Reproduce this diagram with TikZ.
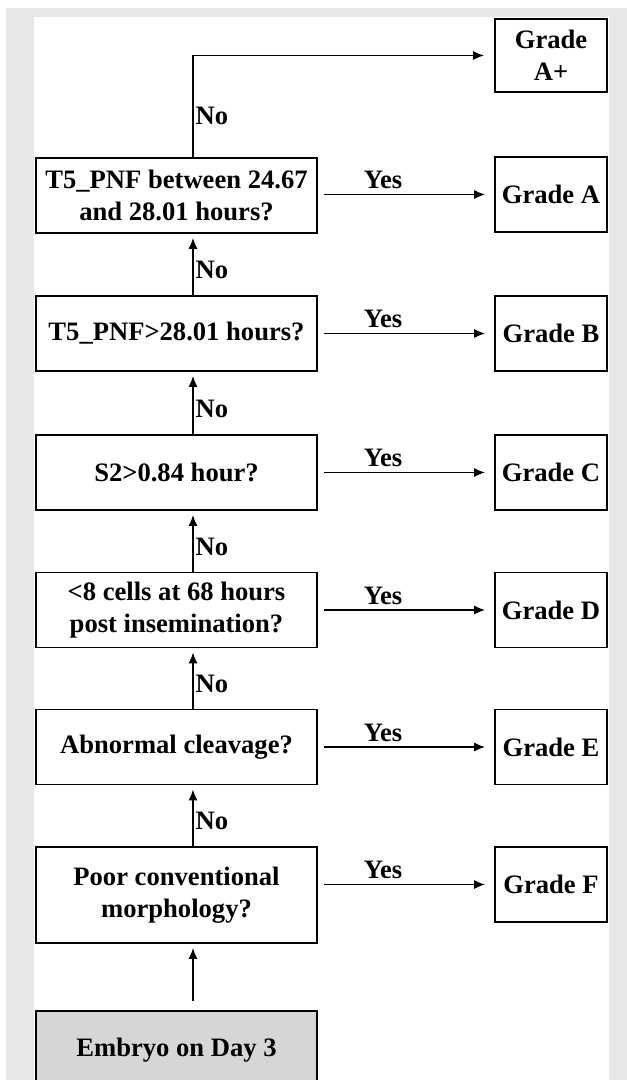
\documentclass[tikz,border=0pt]{standalone}
\usepackage{fontspec}
\setmainfont{Liberation Serif}
\usetikzlibrary{arrows.meta,calc}
\definecolor{panelgray}{HTML}{E6E7E8}
\definecolor{startgray}{HTML}{D6D6D6}
\tikzset{
  qbox/.style={draw=black, line width=1.8pt, rectangle, minimum width=281pt, minimum height=75pt, inner sep=0pt, align=center, font=\fontsize{26.6}{32}\selectfont\bfseries},
  gbox/.style={draw=black, line width=1.8pt, rectangle, minimum width=112pt, minimum height=75pt, inner sep=0pt, align=center, font=\fontsize{26.6}{32}\selectfont\bfseries},
  arr/.style={line width=1.4pt, -{Latex[length=11pt,width=9pt]}},
  lbl/.style={font=\fontsize{26.6}{32}\selectfont\bfseries, inner sep=1pt},
  yesarr/.style={arr, shorten <=6pt, shorten >=9pt},
  noarr/.style={arr, shorten >=4pt}
}
\begin{document}
\begin{tikzpicture}[x=1pt,y=-1pt]
\clip (0,0) rectangle (627,1080);
\fill[white] (0,0) rectangle (627,1080);
\fill[panelgray] (6,8) rectangle (627,1080);
\fill[white] (34,17) rectangle (609,1080);
\coordinate (ax) at (193,0);
% question boxes
\node[qbox] (q1) at (176.5,195.5) {T5\_PNF between 24.67\\and 28.01 hours?};
\node[qbox] (q2) at (176.5,333.5) {T5\_PNF>28.01 hours?};
\node[qbox] (q3) at (176.5,472.5) {S2>0.84 hour?};
\node[qbox] (q4) at (176.5,610) {<8 cells at 68 hours\\post insemination?};
\node[qbox] (q5) at (176.5,747) {Abnormal cleavage?};
\node[qbox, minimum height=96pt] (q6) at (176.5,895) {Poor conventional\\morphology?};
\node[qbox, fill=startgray, minimum height=78pt] (st) at (176.5,1050) {Embryo on Day 3};
% grade boxes
\node[gbox, minimum height=73pt] (gap) at (551,55.5) {Grade\\A+};
\node[gbox] (ga) at (551,194.5) {Grade A};
\node[gbox] (gb) at (551,333.5) {Grade B};
\node[gbox] (gc) at (551,472.5) {Grade C};
\node[gbox] (gd) at (551,610) {Grade D};
\node[gbox] (ge) at (551,747) {Grade E};
\node[gbox] (gf) at (551,884.5) {Grade F};
% yes arrows
\foreach \q/\g in {q1/ga,q2/gb,q3/gc,q4/gd,q5/ge,q6/gf}{
  \draw[yesarr] (\g.west -| \q.east) -- node[lbl, above=4pt, pos=0.37] {Yes} (\g.west);
}
% no arrows
\foreach \lo/\hi in {q2/q1,q3/q2,q4/q3,q5/q4,q6/q5}{
  \draw[noarr] (\lo.north -| ax) -- node[lbl, right=1pt, pos=0.41] {No} (\hi.south -| ax);
}
\coordinate (stop) at ($(st.north -| ax)+(0,-9)$);
\draw[noarr] (stop) -- (q6.south -| ax);
% A+ connector
\coordinate (corner) at (ax |- gap.west);
\draw[arr, shorten >=10pt] (q1.north -| ax) -- node[lbl, right=1pt, pos=0.41] {No} (corner) -- (gap.west);
\end{tikzpicture}
\end{document}
